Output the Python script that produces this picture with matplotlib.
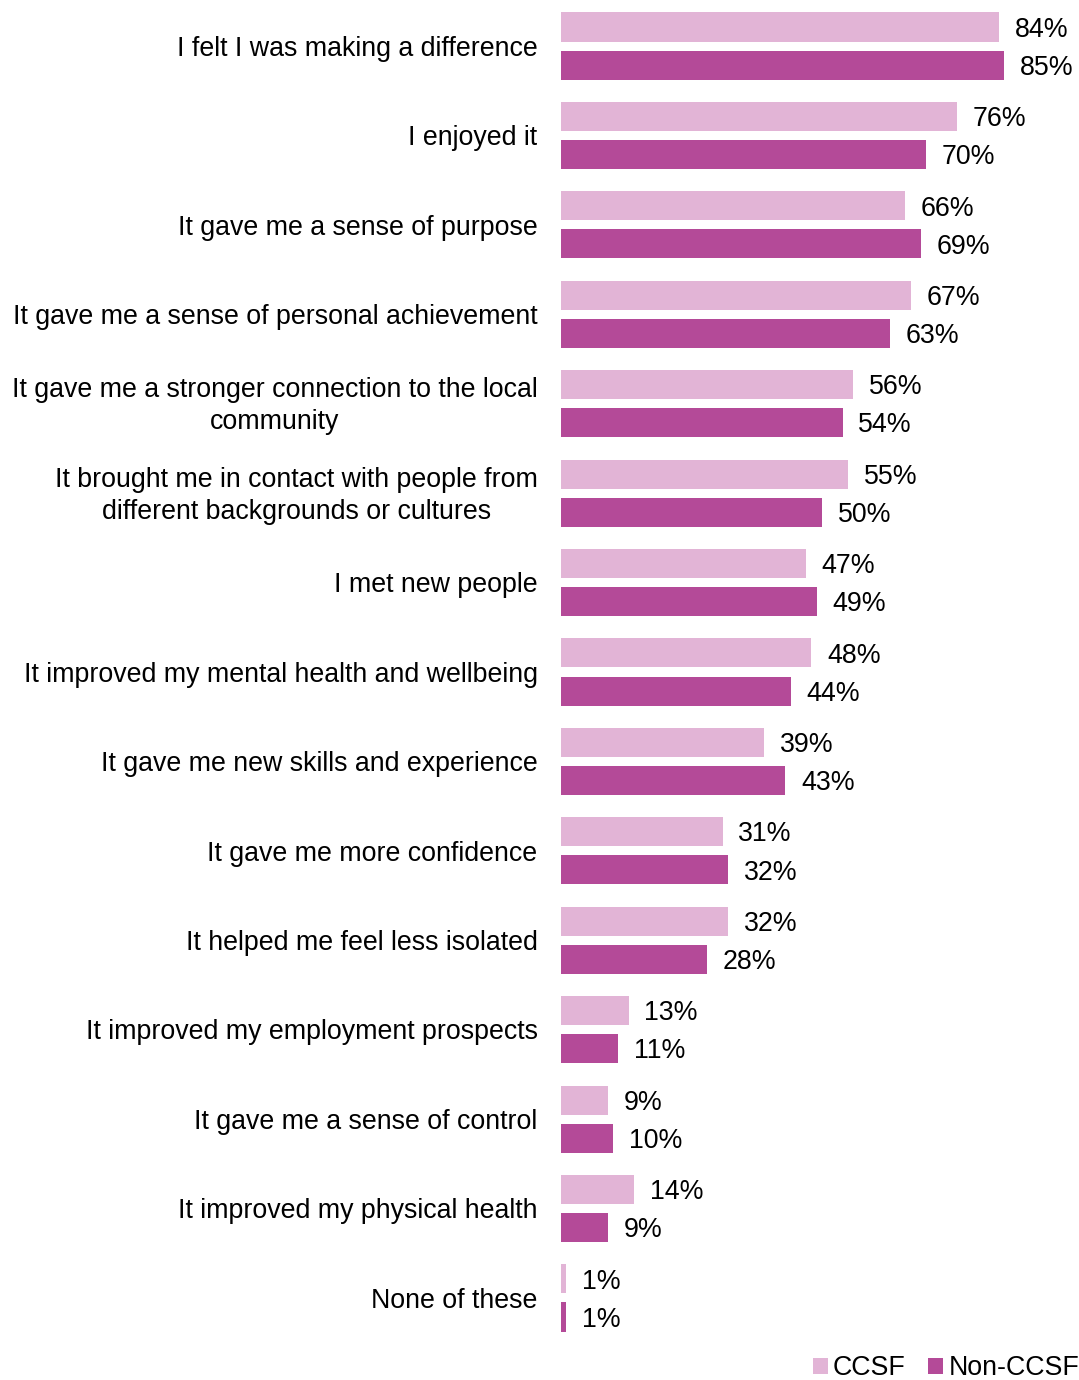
import matplotlib.pyplot as plt
import numpy as np

plt.rcParams['font.family'] = ['Liberation Sans', 'DejaVu Sans']

# Reasons for volunteering, CCSF vs Non-CCSF respondents
reasons = [
    "I felt I was making a difference",
    "I enjoyed it",
    "It gave me a sense of purpose",
    "It gave me a sense of personal achievement",
    "It gave me a stronger connection to the local\ncommunity",
    "It brought me in contact with people from\ndifferent backgrounds or cultures",
    "I met new people",
    "It improved my mental health and wellbeing",
    "It gave me new skills and experience",
    "It gave me more confidence",
    "It helped me feel less isolated",
    "It improved my employment prospects",
    "It gave me a sense of control",
    "It improved my physical health",
    "None of these",
]
ccsf = [84, 76, 66, 67, 56, 55, 47, 48, 39, 31, 32, 13, 9, 14, 1]
non_ccsf = [85, 70, 69, 63, 54, 50, 49, 44, 43, 32, 28, 11, 10, 9, 1]

light = '#E2B4D6'
dark = '#B44A98'
fs = 19.3
dy = 0.03  # nudge text down a touch

fig = plt.figure(figsize=(10.79, 13.80), dpi=100)
ax = fig.add_axes([561 / 1079, 40 / 1380, 1 - 561 / 1079, 1340 / 1380])

y = np.arange(len(reasons))
off = 0.213
h = 0.325
ax.barh(y - off, ccsf, height=h, color=light, label='CCSF')
ax.barh(y + off, non_ccsf, height=h, color=dark, label='Non-CCSF')

for yi, v in zip(y, ccsf):
    ax.text(v + 3, yi - off + dy, f"{v}%", va='center', ha='left', fontsize=fs)
for yi, v in zip(y, non_ccsf):
    ax.text(v + 3, yi + off + dy, f"{v}%", va='center', ha='left', fontsize=fs)

for yi, lab in zip(y, reasons):
    ax.text(-4.5, yi + dy, lab, ha='right', va='center', multialignment='center',
            fontsize=fs, linespacing=1.3)

ax.set_xlim(0, 99.3)
ax.set_ylim(14.47, -0.515)
ax.axis('off')

fig.legend(loc='lower right', bbox_to_anchor=(1.004, -0.004), ncol=2, frameon=False,
           fontsize=fs, handlelength=0.55, handleheight=0.55, handletextpad=0.2,
           columnspacing=0.85, borderaxespad=0.05, borderpad=0.1)

fig.savefig('out.png', dpi=100)
